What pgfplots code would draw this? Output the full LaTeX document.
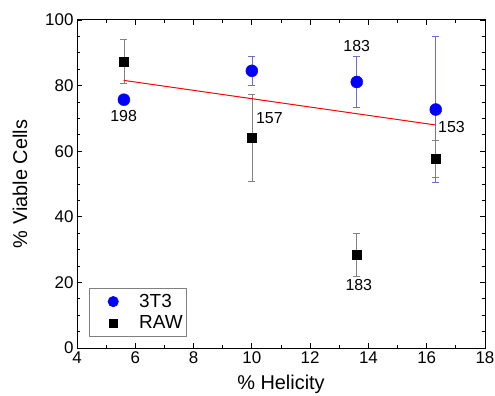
\documentclass[border=0pt]{standalone}
\usepackage{pgfplots}
\pgfplotsset{compat=1.18}
\usepackage{fontspec}
\setmainfont{Liberation Sans}
\definecolor{errblue}{RGB}{110,110,210}
\definecolor{errgray}{RGB}{130,130,130}
\begin{document}
\begin{tikzpicture}[x=1bp,y=1bp]
\useasboundingbox (-77bp,-48bp) rectangle (418bp,348bp);
\begin{axis}[
  scale only axis, width=408bp, height=328bp,
  xmin=4, xmax=18, ymin=0, ymax=100,
  xtick={4,6,...,18}, ytick={0,20,...,100},
  minor x tick num=1, minor y tick num=3,
  tick align=inside, major tick length=5bp, minor tick length=3bp,
  axis line style={line width=1pt}, tick style={line width=0.8pt, black},
  /pgf/number format/assume math mode=true,
  ticklabel style={font=\fontsize{17}{19}\selectfont},
  xlabel={\% Helicity}, ylabel={\% Viable Cells},
  xlabel style={font=\fontsize{20}{22}\selectfont, at={(axis description cs:0.5,-0.11)}, anchor=center},
  ylabel style={font=\fontsize{20}{22}\selectfont, at={(axis description cs:-0.14,0.5)}, anchor=center},
  legend style={at={(0.029,0.034)}, anchor=south west, draw=gray, line width=0.8pt,
    font=\fontsize{19}{21}\selectfont, row sep=3bp, inner xsep=2bp, inner ysep=4bp,
    /tikz/every odd column/.append style={column sep=12bp}},
  legend cell align=left,
  legend image code/.code={\path[draw=none, fill=none] (0bp,-5bp) rectangle (34bp,5bp);
    \draw[#1, only marks, every mark/.append style={scale=0.85}] plot coordinates {(22bp,0bp)};},
]
\addplot[only marks, mark=*, mark size=6bp, mark options={draw=blue, fill=blue},
  error bars/.cd, y dir=both, y explicit,
  error bar style={errblue, line width=0.6pt},
  error mark options={rotate=90, mark size=3.5bp, errblue, line width=0.6pt}]
  coordinates {
  (5.61,75.7) +- (0,0.8)
  (10.0,84.5) +- (0,4.4)
  (13.6,81.1) +- (0,7.8)
  (16.31,72.7) +- (0,22.2)
  };
\addlegendentry{3T3}
\addplot[only marks, mark=square*, mark size=4.5bp, mark options={draw=black, fill=black},
  error bars/.cd, y dir=both, y explicit,
  error bar style={errgray, line width=0.6pt},
  error mark options={rotate=90, mark size=3.5bp, errgray, line width=0.6pt}]
  coordinates {
  (5.61,87.4) +- (0,6.6)
  (10.0,64.1) +- (0,13.2)
  (13.6,28.5) +- (0,6.5)
  (16.31,57.7) +- (0,5.7)
  };
\addlegendentry{RAW}
\addplot[red, line width=1pt, forget plot] coordinates {(5.6,81.6) (16.3,68.0)};
\node[font=\fontsize{16}{18}\selectfont] at (axis cs:5.6,70.7) {198};
\node[font=\fontsize{16}{18}\selectfont] at (axis cs:10.6,70.1) {157};
\node[font=\fontsize{16}{18}\selectfont] at (axis cs:13.6,92.2) {183};
\node[font=\fontsize{16}{18}\selectfont] at (axis cs:16.85,67.4) {153};
\node[font=\fontsize{16}{18}\selectfont] at (axis cs:13.67,19.2) {183};
\end{axis}
\end{tikzpicture}
\end{document}
